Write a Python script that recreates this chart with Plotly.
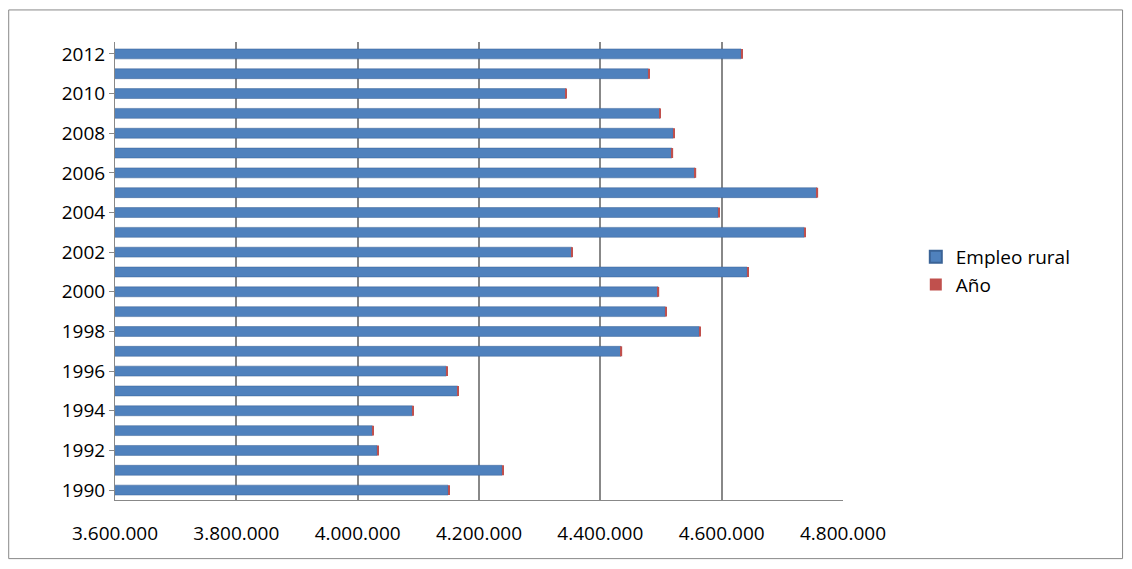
import plotly.graph_objects as go

years = list(range(1990, 2013))
empleo = [4149000, 4238000, 4032000, 4024000, 4090000, 4165000, 4146000, 4434000,
          4563000, 4507000, 4495000, 4642000, 4353000, 4736000, 4594000, 4757000,
          4556000, 4518000, 4520000, 4498000, 4343000, 4479000, 4632000]
anio = years
tickvals = [3600000, 3800000, 4000000, 4200000, 4400000, 4600000, 4800000]
ticktext = ["3.600.000", "3.800.000", "4.000.000", "4.200.000", "4.400.000", "4.600.000", "4.800.000"]

fig = go.Figure()
fig.add_bar(y=years, x=empleo, orientation="h", name="Empleo rural", base=0,
            marker=dict(color="#4F81BD", line=dict(color="#3A6396", width=0.5)))
fig.add_bar(y=years, x=anio, orientation="h", name="Año", base=empleo,
            marker=dict(color="#C0504D", line=dict(width=0)))
fig.update_layout(
    barmode="overlay", bargap=0.5,
    width=1116, height=553, paper_bgcolor="white", plot_bgcolor="white",
    margin=dict(l=107, r=281, t=34, b=61),
    font=dict(family="Open Sans, Liberation Sans, sans-serif", size=19, color="#000"),
    legend=dict(x=1.10, y=0.5, yanchor="middle", font=dict(size=19), bgcolor="rgba(0,0,0,0)",
                tracegroupgap=0, itemsizing="constant"),
    xaxis=dict(range=[3600000, 4800000], tickvals=tickvals, ticktext=ticktext,
               showgrid=True, gridcolor="#888", gridwidth=1.5, zeroline=False,
               showline=True, linecolor="#888", ticks="", ticklen=0, ticklabelstandoff=16),
    yaxis=dict(range=[1989.5, 2012.6], tickvals=list(range(1990, 2013, 2)),
               showline=True, linecolor="#888", ticks="outside", tickcolor="#888",
               ticklen=5, showgrid=False),
    shapes=[dict(type="rect", xref="paper", yref="paper", x0=-0.146, x1=1.384,
                 y0=-0.128, y1=1.07, line=dict(color="#888", width=1))],
)
fig.write_html("out.html")
